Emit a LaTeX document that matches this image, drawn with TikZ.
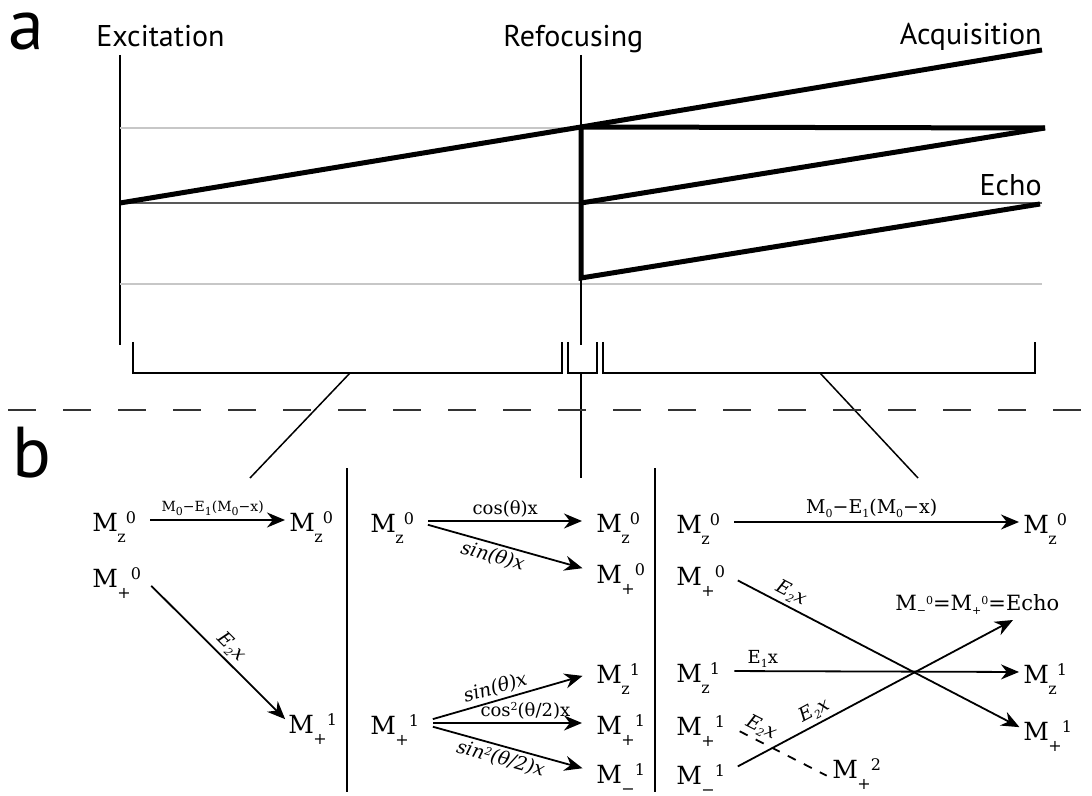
\documentclass[tikz,border=0pt]{standalone}
\usepackage{fontspec}
\setmainfont{DejaVu Serif}
\newfontfamily\asans{PT Sans}
\usetikzlibrary{arrows.meta}
\newcommand{\subf}{\fontsize{8}{8}\selectfont}
\newcommand{\Mq}[2]{M\kern-0.3pt\raisebox{-5.5pt}{\subf #1}\raisebox{4pt}{\subf #2}}
\newcommand{\lsb}[1]{\raisebox{-2pt}{\fontsize{5.5}{5.5}\selectfont #1}}
\newcommand{\lsp}[1]{\raisebox{3pt}{\fontsize{5.5}{5.5}\selectfont #1}}
\tikzset{
  thinl/.style={line width=0.75pt},
  thk/.style={line width=2.5pt},
  glight/.style={line width=1pt, black!22},
  gdark/.style={line width=0.8pt, black!65},
  alab/.style={font=\asans\fontsize{15}{15}\selectfont, inner sep=0pt},
  big/.style={font=\asans\fontsize{36}{36}\selectfont, inner sep=0pt, anchor=base west, text height=19pt},
  mnode/.style={anchor=base west, inner sep=0pt, text height=11pt, text depth=0pt, font=\fontsize{12.5}{12.5}\selectfont},
  arr/.style={line width=0.9pt, -{Stealth[length=9pt,width=7.5pt]}, shorten <=7pt, shorten >=2pt},
  arrb/.style={arr, shorten >=7pt},
  lab/.style={font=\fontsize{9}{9}\selectfont, inner sep=1.5pt},
  slab/.style={lab, font=\fontsize{9.5}{9.5}\selectfont\itshape, sloped},
}
\begin{document}
\begin{tikzpicture}[x=0.5pt,y=-0.5pt]
\useasboundingbox (0,0) rectangle (1092,796);
% ---------- part a ----------
\node[big] (la) at (8,50) {a};
\node[big, text height=27pt] (lb) at (12,478) {b};
\node[alab, anchor=base west] (exc) at (96,47) {Excitation};
\node[alab, anchor=base west] (ref) at (503,47) {Refocusing};
\node[alab, anchor=base east] (acq) at (1042,45) {Acquisition};
\node[alab, anchor=base east] (echoA) at (1042,196) {Echo};

\draw[thinl] (120,55) -- (120,345);
\draw[glight] (120,128) -- (1042,128);
\draw[glight] (120,284) -- (1042,284);
\draw[gdark] (120,203) -- (1042,203);
\draw[thinl] (581,55) -- (581,345);

\draw[thk, line join=round] (120,203) -- (581,127) -- (1042,50);
\draw[thk] (581,127) -- (1045,128);
\draw[thk, line join=miter] (581,127) -- (581,278) -- (1040,204);
\draw[thk] (581,203) -- (1045,128);

% brackets
\draw[thinl] (133,342) -- (133,373) -- (562,373) -- (562,342);
\draw[thinl] (568,342) -- (568,373) -- (597,373) -- (597,342);
\draw[thinl] (603,342) -- (603,373) -- (1035,373) -- (1035,342);
\coordinate (br1) at (350,373);
\coordinate (br2) at (581,373);
\coordinate (br3) at (820,373);
\coordinate (pb1) at (250,478);
\coordinate (pb2) at (581,478);
\coordinate (pb3) at (918,478);
\draw[thinl] (br1) -- (pb1);
\draw[thinl] (br2) -- (pb2);
\draw[thinl] (br3) -- (pb3);

\draw[line width=1pt, black!80, dash pattern=on 14pt off 13.5pt] (8,410) -- (1092,410);

% ---------- part b ----------
\draw[thinl] (347,468) -- (347,792);
\draw[thinl] (655,468) -- (655,792);

% panel 1
\node[mnode] (a1) at (92,531) {\Mq{z}{0}};
\node[mnode] (a2) at (289,531) {\Mq{z}{0}};
\node[mnode] (a3) at (92,587) {\Mq{+}{0}};
\node[mnode] (a4) at (288,733) {\Mq{+}{1}};
\draw[arr] (a1.east) -- node[lab, above, font=\fontsize{7}{7}\selectfont] {M\lsb{0}−E\lsb{1}(M\lsb{0}−x)} (a2.west);
\draw[arr] (a3.east) -- node[slab, above, pos=.55] {E\lsb{2}x} (a4.west);

% panel 2
\node[mnode] (b1) at (370,532) {\Mq{z}{0}};
\node[mnode] (b2) at (596,532) {\Mq{z}{0}};
\node[mnode] (b3) at (596,583) {\Mq{+}{0}};
\node[mnode] (b4) at (370,734) {\Mq{+}{1}};
\node[mnode] (b5) at (596,683) {\Mq{z}{1}};
\node[mnode] (b6) at (596,734) {\Mq{+}{1}};
\node[mnode] (b7) at (596,783) {\Mq{−}{1}};
\draw[arrb] (b1.east) -- node[lab, above] {cos(θ)x} (b2.west);
\draw[arrb] (b1.east) -- node[slab, below, pos=.45] {sin(θ)x} (b3.west);
\draw[arrb] (b4.east) -- node[slab, above, pos=.45] {sin(θ)x} (b5.west);
\draw[arrb] (b4.east) -- node[lab, above, pos=.6] {cos\lsp{2}(θ/2)x} (b6.west);
\draw[arrb] (b4.east) -- node[slab, below, pos=.48] {sin\lsp{2}(θ/2)x} (b7.west);

% panel 3
\node[mnode] (c1) at (676,533) {\Mq{z}{0}};
\node[mnode] (c2) at (1023,533) {\Mq{z}{0}};
\node[mnode] (c3) at (676,585) {\Mq{+}{0}};
\node[mnode] (c4) at (676,682) {\Mq{z}{1}};
\node[mnode] (c5) at (676,735) {\Mq{+}{1}};
\node[mnode] (c6) at (676,784) {\Mq{−}{1}};
\node[mnode] (c7) at (1023,683) {\Mq{z}{1}};
\node[mnode] (c8) at (1023,740) {\Mq{+}{1}};
\node[mnode] (c9) at (832,778) {\Mq{+}{2}};
\node[anchor=base west, inner sep=0pt, font=\fontsize{10.5}{10.5}\selectfont] (echo) at (895,610) {M\lsb{−}\lsp{0}=M\lsb{+}\lsp{0}=Echo};
\coordinate (echoTip) at (1013,620);

\draw[arr] (c1.east) -- node[lab, above, font=\fontsize{9.5}{9.5}\selectfont] {M\lsb{0}−E\lsb{1}(M\lsb{0}−x)} (c2.west);
\draw[arr] (c3.east) -- node[slab, above, pos=.2] {E\lsb{2}x} (c8.west);
\draw[arr] (c4.east) -- node[lab, above, pos=.14] {E\lsb{1}x} (c7.west);
\draw[arr, shorten >=0pt] (c6.east) -- node[slab, above, pos=.33] {E\lsb{2}x} (echoTip);
\draw[line width=0.9pt, dash pattern=on 4.5pt off 4.5pt, shorten <=8pt, shorten >=3pt] (c5.east) -- node[slab, above, pos=.28] {E\lsb{2}x} (c9.south west);
\end{tikzpicture}
\end{document}
